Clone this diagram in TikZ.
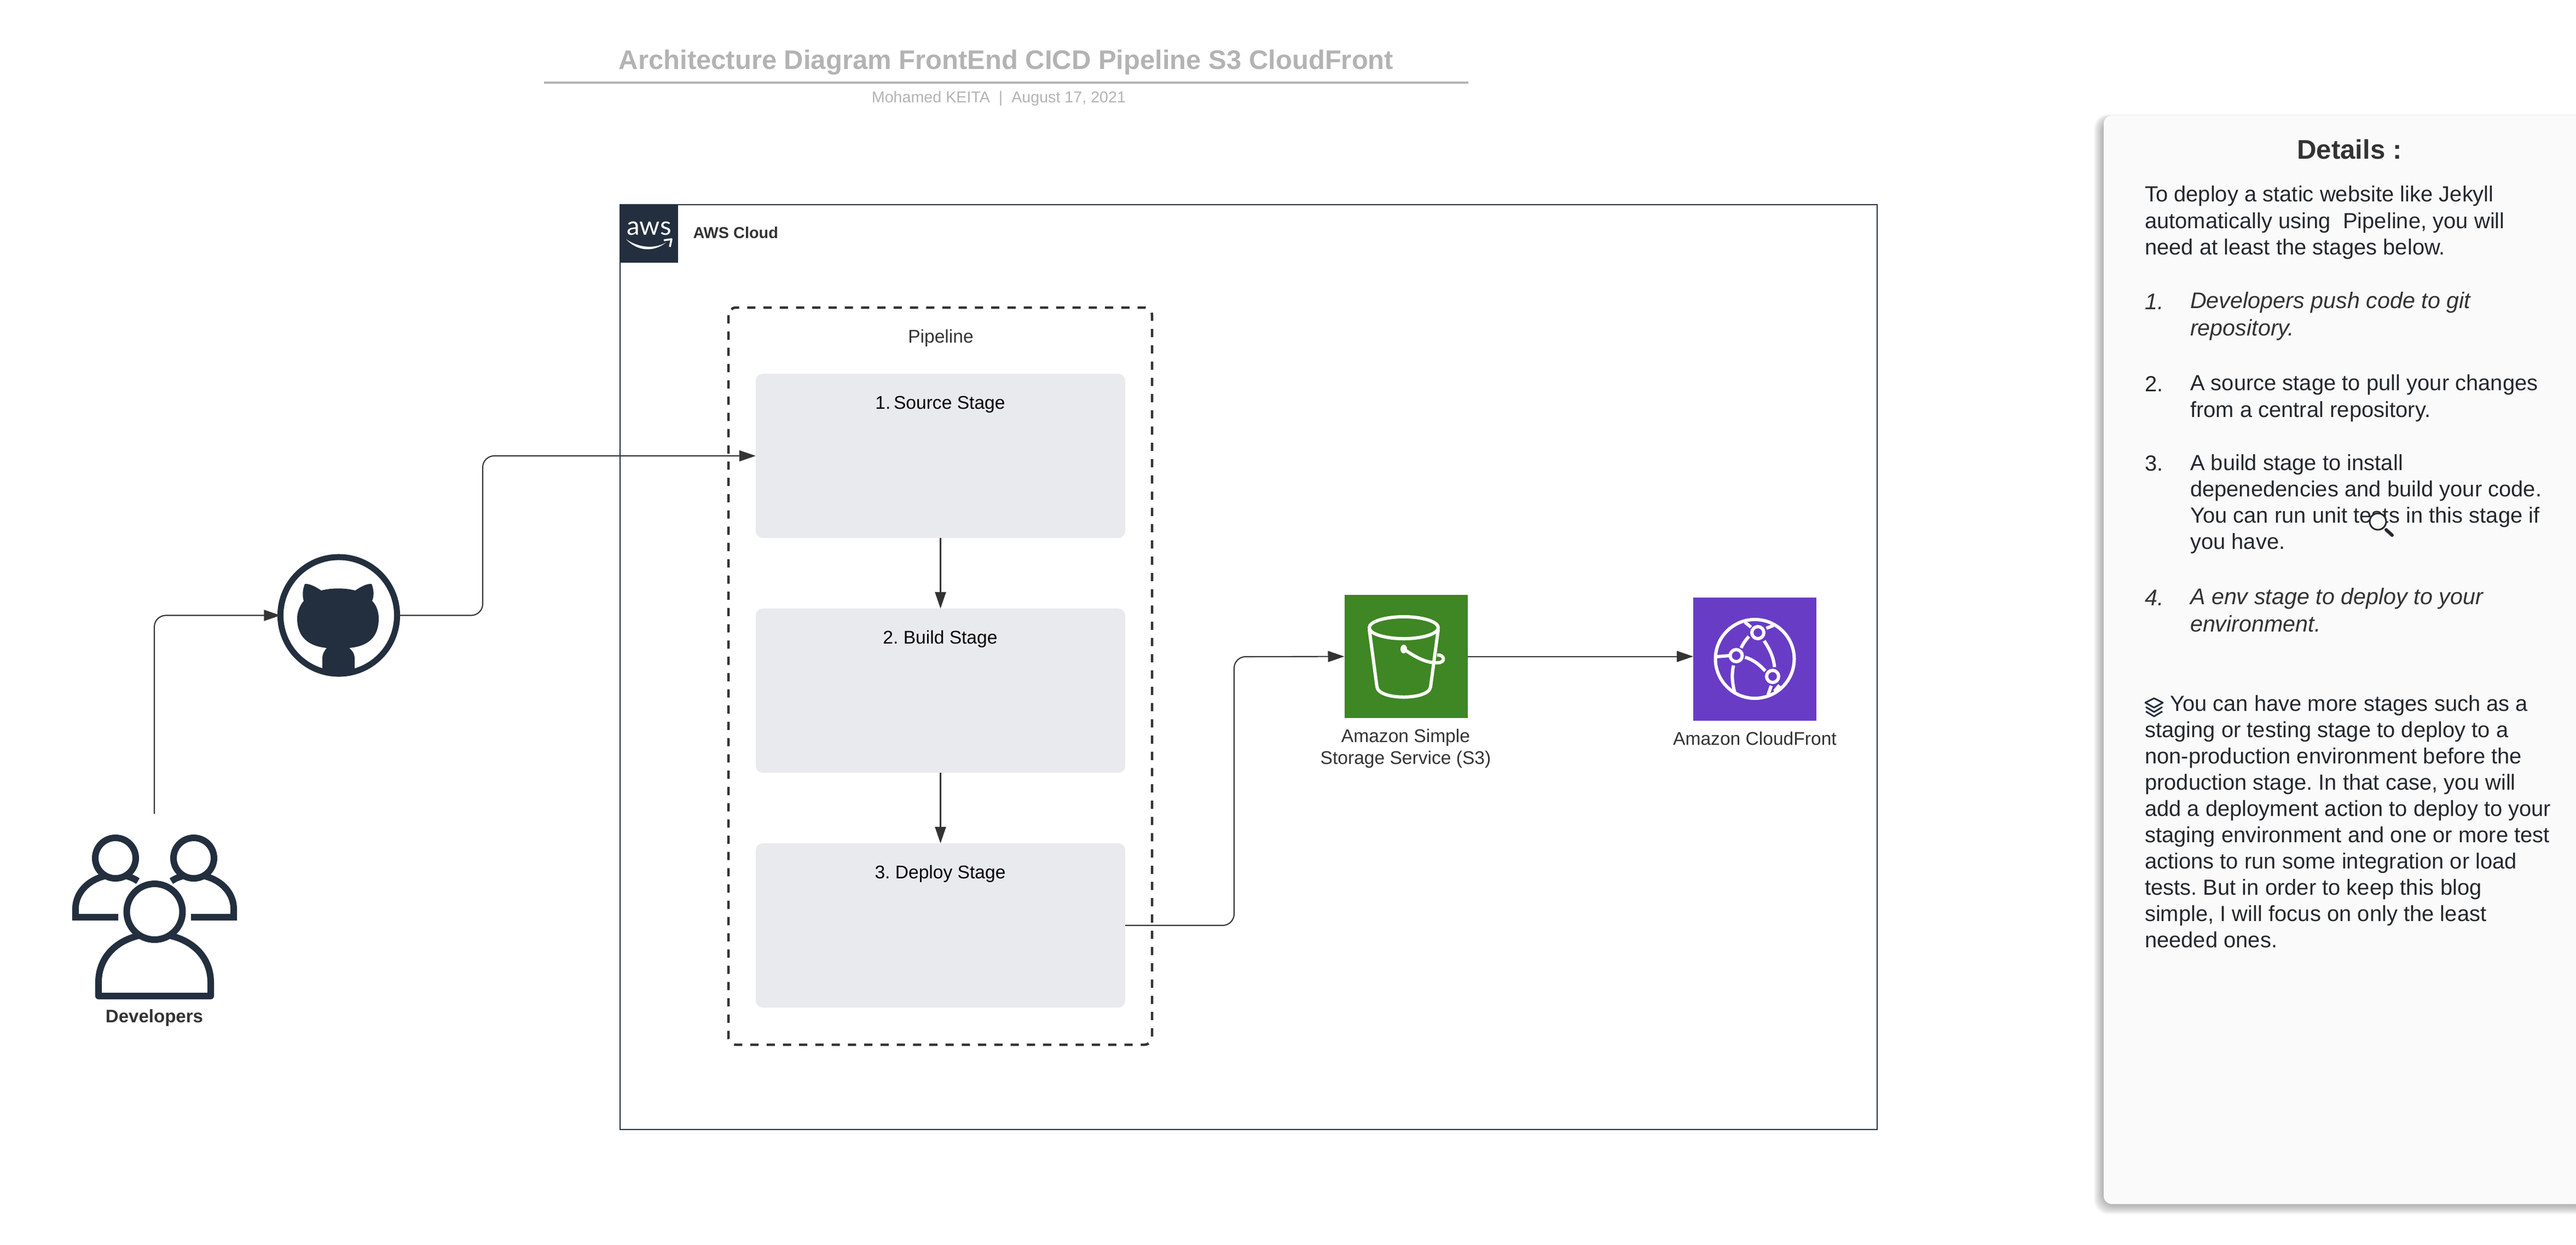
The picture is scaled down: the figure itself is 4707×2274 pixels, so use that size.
\documentclass[tikz,border=0pt]{standalone}
\usepackage{fontspec}
\setmainfont{Liberation Sans}
\newfontfamily\logofont{Lato}
\usetikzlibrary{arrows.meta}
\definecolor{awsdark}{HTML}{232F3E}
\definecolor{inkgrey}{HTML}{333333}
\definecolor{titlegrey}{HTML}{B3B3B3}
\definecolor{stagefill}{HTML}{E9EAEE}
\definecolor{panelfill}{HTML}{FAFAFA}
\definecolor{paneltext}{HTML}{24282D}
\definecolor{s3green}{HTML}{3F8624}
\definecolor{cfpurple}{HTML}{693CC5}
\frenchspacing
\begin{document}
\begin{tikzpicture}[
	x=0.01cm, y=-0.01cm,
	every node/.style={inner sep=0, outer sep=0},
	titletext/.style={anchor=base, text=titlegrey, font=\fontsize{13.93}{16}\selectfont\bfseries},
	subtext/.style={anchor=base, text=titlegrey, font=\fontsize{8.15}{10}\selectfont},
	smalltext/.style={anchor=base, text=inkgrey, font=\fontsize{9.55}{11.4}\selectfont},
	stagetext/.style={anchor=base, text=black, font=\fontsize{9.55}{11}\selectfont},
	boldtext/.style={anchor=base, text=inkgrey, font=\fontsize{9.4}{11}\selectfont\bfseries},
	bodytext/.style={anchor=north west, align=left, text=paneltext, font=\fontsize{11.37}{13.66}\selectfont},
	itemtext/.style={anchor=north west, align=left, text=inkgrey, font=\fontsize{11.75}{14.2}\selectfont\itshape},
	numtext/.style={anchor=base west, text=paneltext, font=\fontsize{11.37}{13.66}\selectfont},
	stagebox/.style={shape=rectangle, fill=stagefill, rounded corners=1.3mm, minimum width=6.75cm, minimum height=3cm},
	iconbox/.style={shape=rectangle, minimum size=2.25cm},
	conn/.style={draw=inkgrey, line width=0.21mm, rounded corners=2.1mm, -{Triangle[length=3mm,width=2mm]}},
	iconline/.style={draw=awsdark, line width=0.12cm},
	whiteline/.style={draw=white, line width=0.06cm},
]
\useasboundingbox (0,0) rectangle (4707,2274);

% header
\node[titletext] (title) at (1838.5,126) {Architecture Diagram FrontEnd CICD Pipeline S3 CloudFront};
\draw[titlegrey, line width=0.04cm] (994,151) -- (2683,151);
\node[subtext] (subtitle) at (1825,187) {Mohamed KEITA\ \ |\ \ August 17, 2021};

% aws cloud group
\draw[awsdark, line width=0.15mm] (1133,374) rectangle (3430,2064);
\node[shape=rectangle, fill=awsdark, minimum size=1.06cm, anchor=north west] (awslogo) at (1133,374) {};
\node[anchor=base, text=white, font=\logofont\fontsize{13.5}{14}\selectfont] (awsword) at (1186,429) {aws};
\fill[white] (1144,437) .. controls (1165,452) and (1195,456) .. (1217,443) .. controls (1195,461) and (1165,460) .. cycle;
\draw[white, line width=0.035cm, line join=round] (1213,439) -- (1227,437) -- (1224,451);
\node[boldtext, font=\fontsize{8.2}{10}\selectfont\bfseries, anchor=base west] (awslabel) at (1266.5,435) {AWS Cloud};

% pipeline with its stages
\draw[inkgrey, line width=0.045cm, rounded corners=1.4mm, dash pattern=on 0.15cm off 0.147cm] (1331,562) rectangle (2105,1909);
\node[smalltext] (pipelabel) at (1719,626) {Pipeline};
\node[stagebox] (source) at (1718.5,833) {};
\node[stagebox] (build) at (1718.5,1262) {};
\node[stagebox] (deploy) at (1718.5,1691) {};
\node[stagetext] (sourcelabel) at (1718,747) {1.\,Source Stage};
\node[stagetext] (buildlabel) at (1718,1176) {2. Build Stage};
\node[stagetext] (deploylabel) at (1718,1605) {3. Deploy Stage};

% s3 and cloudfront
\node[iconbox, fill=s3green, anchor=north west] (s3) at (2456.5,1087) {};
\node[iconbox, fill=cfpurple, anchor=north west] (cloudfront) at (3094,1092) {};
\draw[whiteline] (2565,1147) ellipse [x radius=63, y radius=20];
\draw[whiteline] (2502,1150) -- (2516,1255) .. controls (2519,1280) and (2611,1280) .. (2614,1255) -- (2628,1150);
\fill[white] (2565,1186) ellipse [x radius=6, y radius=8];
\draw[whiteline] (2565,1186) .. controls (2589,1203) and (2609,1212) .. (2627,1211) .. controls (2643,1211) and (2639,1195) .. (2626,1197);
\node[smalltext] (s3labela) at (2568.5,1356) {Amazon Simple};
\node[smalltext] (s3labelb) at (2568.5,1396) {Storage Service (S3)};
\begin{scope}[shift={(-4.5,0)}]
\draw[whiteline] (3211,1204) circle (72);
\draw[whiteline] (3216.5,1156) circle (11);
\draw[whiteline] (3177,1198) circle (11);
\draw[whiteline] (3243.5,1236) circle (11);
\draw[whiteline] (3200,1163) .. controls (3194,1170) and (3190,1175) .. (3186,1184);
\draw[whiteline] (3228,1171) .. controls (3238,1186) and (3245,1200) .. (3247,1219);
\draw[whiteline] (3193,1201) .. controls (3208,1205) and (3220,1215) .. (3230,1226);
\draw[whiteline] (3172,1216) .. controls (3168,1235) and (3170,1250) .. (3175,1268);
\draw[whiteline] (3165,1198) -- (3140,1200);
\draw[whiteline] (3193,1137) -- (3204,1146);
\draw[whiteline] (3245,1143) -- (3232,1148);
\draw[whiteline] (3241,1253) -- (3235,1270);
\draw[whiteline] (3256,1252) -- (3247,1263);
\end{scope}
\node[smalltext] (cflabel) at (3206.5,1361) {Amazon CloudFront};

% github
\node[shape=circle, draw=awsdark, line width=0.11cm, fill=white, minimum size=2.13cm] (github) at (619,1124.5) {};
\fill[awsdark] (557,1067) .. controls (566,1066) and (578,1073) .. (587,1079) .. controls (606,1074) and (630,1074) .. (649,1079) .. controls (658,1073) and (670,1066) .. (679,1067) .. controls (683,1077) and (684,1088) .. (680,1098) .. controls (688,1106) and (692,1118) .. (692,1130) .. controls (692,1165) and (672,1181) .. (638,1184) .. controls (644,1189) and (648,1195) .. (648,1202) -- (648,1230) -- (589,1230) -- (589,1202) .. controls (589,1195) and (593,1189) .. (597,1184) .. controls (565,1181) and (543,1165) .. (543,1130) .. controls (543,1118) and (548,1106) .. (555,1098) .. controls (552,1088) and (553,1077) .. (557,1067) -- cycle;

% developers
\draw[iconline] (216,1676) -- (138,1676) -- (138,1660) .. controls (138,1630) and (165,1600) .. (211,1598) .. controls (225,1598) and (240,1602) .. (252,1610);
\draw[iconline] (349,1676) -- (427,1676) -- (427,1660) .. controls (427,1630) and (400,1600) .. (354,1598) .. controls (340,1598) and (325,1602) .. (313,1610);
\draw[iconline, fill=white] (211,1568) circle (37);
\draw[iconline, fill=white] (354,1568) circle (37);
\draw[iconline, line join=round] (180,1820) -- (385,1820) -- (385,1795) .. controls (385,1745) and (345,1708) .. (282,1706) .. controls (220,1708) and (180,1745) .. (180,1795) -- cycle;
\draw[iconline, fill=white] (282.5,1666) circle (51);
\node[boldtext] (devlabel) at (282,1868) {Developers};
\coordinate (devtop) at (282,1487);
\coordinate (bendsrc) at (882,833);
\coordinate (bends3) at (2255,1200);

% connectors
\draw[conn] (devtop) |- (github.west);
\draw[conn] (github.east) -| (bendsrc) -- (source.west);
\draw[conn] (source.south) -- (build.north);
\draw[conn] (build.south) -- (deploy.north);
\draw[conn] (deploy.east) -| (bends3) -- (s3.west);
\draw[conn, rounded corners=0] (s3.east) -- (s3.east -| cloudfront.west);

% details panel
\foreach \s in {1,...,16}
	\fill[black, opacity=0.018, rounded corners=2.5mm] ({3842-\s},{217-0.5*\s}) rectangle (4730,{2203+\s});
\node[shape=rectangle, fill=panelfill, rounded corners=1.5mm, minimum width=8.75cm, minimum height=19.88cm, anchor=north west] (panel) at (3844,211) {};
\node[anchor=base, text=inkgrey, font=\fontsize{14}{16}\selectfont\bfseries] (detailshead) at (4293,290) {Details :};
\node[bodytext] (intro) at (3919,340) {To deploy a static website like Jekyll\\automatically using\ \ Pipeline, you will\\need at least the stages below.};
\node[numtext, text=inkgrey, font=\fontsize{11.75}{14.2}\selectfont\itshape] (numa) at (3919,565) {1.};
\node[itemtext] (itema) at (4002,534) {Developers push code to git\\repository.};
\node[numtext] (numb) at (3919,715) {2.};
\node[bodytext] (itemb) at (4002,685) {A source stage to pull your changes\\from a central repository.};
\node[numtext] (numc) at (3919,860) {3.};
\node[bodytext] (itemc) at (4002,830) {A build stage to install\\depenedencies and build your code.\\You can run unit tests in this stage if\\you have.};
\node[numtext, text=inkgrey, font=\fontsize{11.75}{14.2}\selectfont\itshape] (numd) at (3919,1106) {4.};
\node[itemtext] (itemd) at (4002,1075) {A env stage to deploy to your\\environment.};
\node[bodytext] (note) at (3919,1270) {\hspace*{0.46cm}You can have more stages such as a\\staging or testing stage to deploy to a\\non-production environment before the\\production stage. In that case, you will\\add a deployment action to deploy to your\\staging environment and one or more test\\actions to run some integration or load\\tests. But in order to keep this blog\\simple, I will focus on only the least\\needed ones.};

% layers mark in front of the note
\draw[awsdark, line width=0.03cm, line join=round, fill=panelfill] (3936,1276) -- (3952,1284) -- (3936,1293) -- (3920,1284) -- cycle;
\draw[awsdark, line width=0.03cm, line join=round] (3921,1292) -- (3936,1301) -- (3951,1292);
\draw[awsdark, line width=0.03cm, line join=round] (3921,1300) -- (3936,1309) -- (3951,1300);

% pointer lens over the text
\draw[paneltext, line width=0.03cm, fill=panelfill] (4345,953) circle (15);
\draw[paneltext, line width=0.06cm, line cap=round] (4360,968) -- (4371,978);
\end{tikzpicture}
\end{document}
